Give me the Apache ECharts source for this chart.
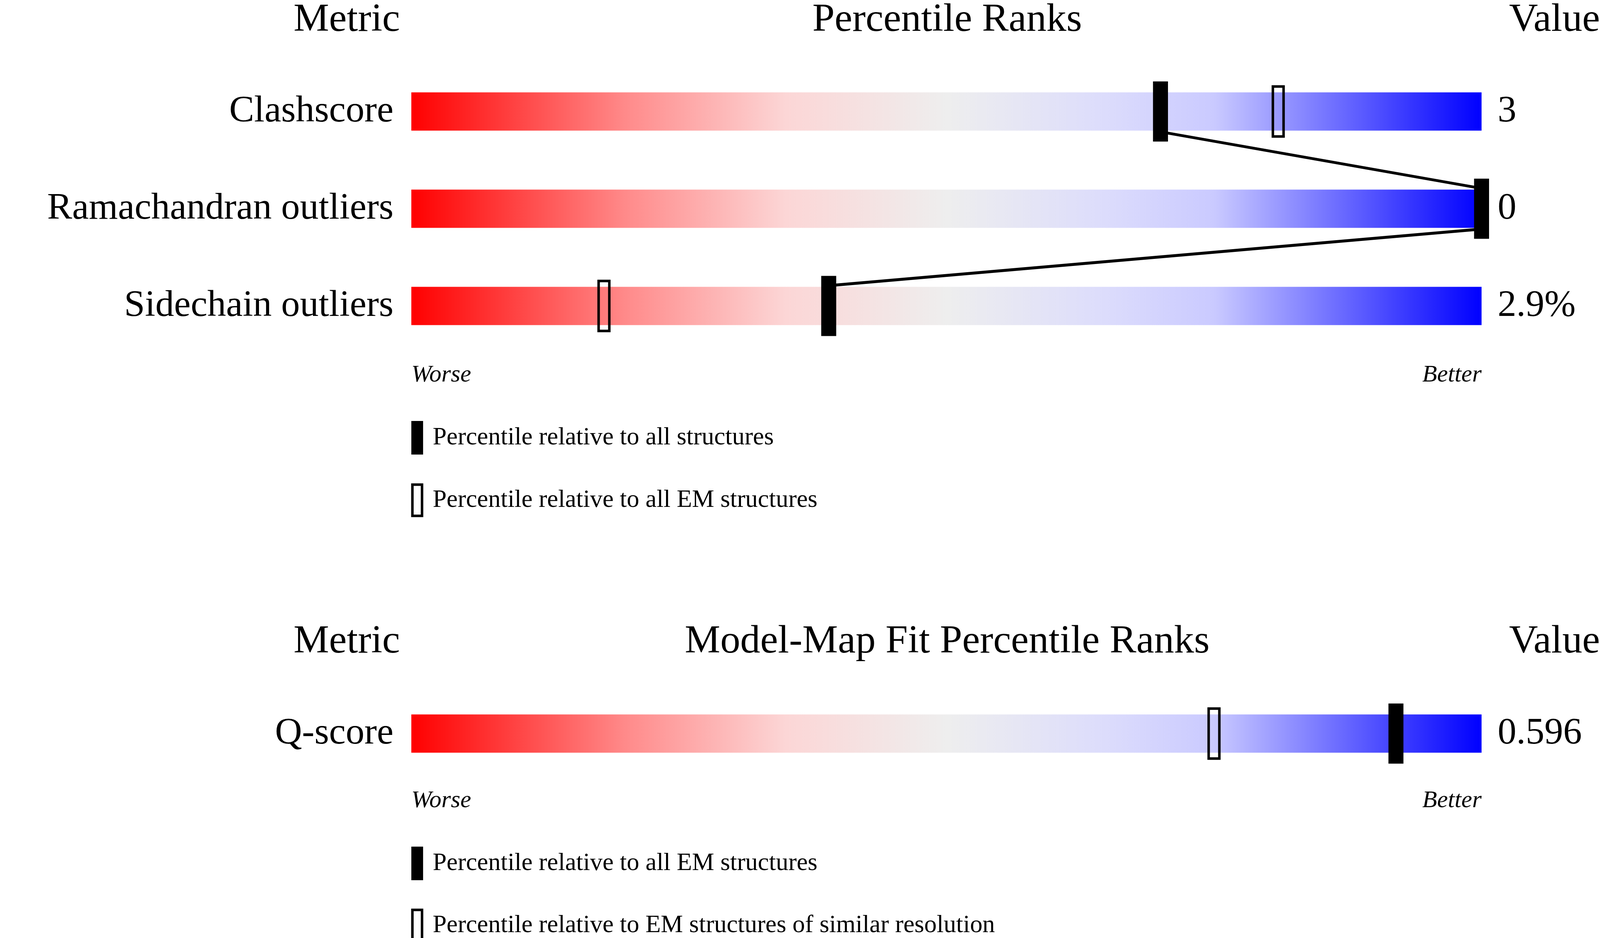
<!DOCTYPE html>
<html>
<head>
<meta charset="utf-8">
<script src="https://cdn.jsdelivr.net/npm/echarts@6/dist/echarts.min.js"></script>
<style>html,body{margin:0;padding:0;background:#fff;overflow:hidden}#chart{width:100vw;height:100vh}</style>
</head>
<body>
<div id="chart"></div>
<script>
// geometry percentile data
var metrics = ['Clashscore', 'Ramachandran outliers', 'Sidechain outliers'];
var values = ['3', '0', '2.9%'];
var pctAll = [70, 100, 39];
var pctEM = [81, 100, 18];
// model-map fit
var fitMetrics = ['Q-score'];
var fitValues = ['0.596'];
var fitPctAll = [92];
var fitPctRes = [75];

// layout is designed for 4485x2402, scaled to whatever the window really is
var el = document.getElementById('chart');
var sx = el.clientWidth / 4485, sy = el.clientHeight / 2402, sf = Math.min(sx, sy);
function X(v) { return v * sx; }
function Y(v) { return v * sy; }
function F(v) { return v * sf; }

var FONT = '"Liberation Serif", "DejaVu Serif", serif';
var gradient = new echarts.graphic.LinearGradient(0, 0, 1, 0, [
  { offset: 0, color: '#ff0000' },
  { offset: 0.2, color: '#ff8a8a' },
  { offset: 0.35, color: '#fcd6d6' },
  { offset: 0.5, color: '#eeeeee' },
  { offset: 0.65, color: '#dcdcfc' },
  { offset: 0.75, color: '#cacaff' },
  { offset: 1, color: '#0000ff' }
]);

function barSeries(grid, names, vals) {
  return {
    type: 'custom', xAxisIndex: grid, yAxisIndex: grid,
    data: names.map(function (n, i) { return [i]; }),
    renderItem: function (params, api) {
      var i = api.value(0);
      var a = api.coord([0, i]), b = api.coord([100, i]);
      return { type: 'group', children: [
        { type: 'rect', shape: { x: a[0], y: a[1] - Y(49), width: b[0] - a[0], height: Y(98) }, style: { fill: gradient } },
        { type: 'text', x: a[0] - X(50), y: a[1], style: { text: names[i], font: F(105) + 'px ' + FONT, fill: '#000', align: 'right', verticalAlign: 'middle' } },
        { type: 'text', x: b[0] + X(45), y: a[1], style: { text: vals[i], font: F(105) + 'px ' + FONT, fill: '#000', align: 'left', verticalAlign: 'middle' } }
      ] };
    }
  };
}

function lineSeries(grid, pcts) {
  return {
    type: 'custom', xAxisIndex: grid, yAxisIndex: grid,
    data: pcts.map(function (p, i) { return [p, i]; }),
    renderItem: function (params, api) {
      var i = api.value(1);
      if (i === 0) return null;
      var p0 = api.coord([pcts[i - 1], i - 1]), p1 = api.coord([pcts[i], i]);
      return { type: 'line', shape: { x1: p0[0], y1: p0[1] + Y(52), x2: p1[0], y2: p1[1] - Y(52) }, style: { stroke: '#000', lineWidth: F(8) } };
    }
  };
}

function markerSeries(grid, pcts, filled) {
  return {
    type: 'custom', xAxisIndex: grid, yAxisIndex: grid,
    data: pcts.map(function (p, i) { return [p, i]; }),
    renderItem: function (params, api) {
      var c = api.coord([api.value(0), api.value(1)]);
      if (filled) {
        return { type: 'rect', shape: { x: c[0] - X(21), y: c[1] - Y(77), width: X(42), height: Y(154) }, style: { fill: '#000' } };
      }
      return { type: 'rect', shape: { x: c[0] - X(15), y: c[1] - Y(64), width: X(30), height: Y(128) }, style: { fill: 'none', stroke: '#000', lineWidth: F(7) } };
    }
  };
}

function txt(x, y, s, size, align, italic) {
  return { type: 'text', x: X(x), y: Y(y), style: { text: s, font: (italic ? 'italic ' : '') + F(size) + 'px ' + FONT, fill: '#000', align: align, verticalAlign: 'middle' } };
}
function legend(y, s, filled) {
  return [
    filled ? { type: 'rect', shape: { x: X(1153), y: Y(y - 43), width: X(33), height: Y(86) }, style: { fill: '#000' } }
           : { type: 'rect', shape: { x: X(1156), y: Y(y - 40), width: X(27), height: Y(80) }, style: { fill: 'none', stroke: '#000', lineWidth: F(7) } },
    txt(1213, y, s, 70, 'left')
  ];
}

var chart = echarts.init(el);
chart.setOption({
  animation: false,
  grid: [
    { left: X(1153), width: X(3000), top: Y(161), height: Y(747) },
    { left: X(1153), width: X(3000), top: Y(1754), height: Y(249) }
  ],
  xAxis: [
    { gridIndex: 0, type: 'value', min: 0, max: 100, show: false },
    { gridIndex: 1, type: 'value', min: 0, max: 100, show: false }
  ],
  yAxis: [
    { gridIndex: 0, type: 'value', min: -0.5, max: 2.5, inverse: true, show: false },
    { gridIndex: 1, type: 'value', min: -0.5, max: 0.5, inverse: true, show: false }
  ],
  series: [
    barSeries(0, metrics, values),
    lineSeries(0, pctAll),
    markerSeries(0, pctEM, false),
    markerSeries(0, pctAll, true),
    barSeries(1, fitMetrics, fitValues),
    markerSeries(1, fitPctRes, false),
    markerSeries(1, fitPctAll, true)
  ],
  graphic: [].concat(
    [
      txt(972, 52, 'Metric', 112, 'center'),
      txt(2655, 52, 'Percentile Ranks', 112, 'center'),
      txt(4485, 52, 'Value', 112, 'right'),
      txt(1153, 961, 'Worse', 68, 'left', true),
      txt(4153, 961, 'Better', 68, 'right', true),
      txt(972, 1644, 'Metric', 112, 'center'),
      txt(2655, 1644, 'Model-Map Fit Percentile Ranks', 112, 'center'),
      txt(4485, 1644, 'Value', 112, 'right'),
      txt(1153, 2051, 'Worse', 68, 'left', true),
      txt(4153, 2051, 'Better', 68, 'right', true)
    ],
    legend(1121, 'Percentile relative to all structures', true),
    legend(1281, 'Percentile relative to all EM structures', false),
    legend(2211, 'Percentile relative to all EM structures', true),
    legend(2370, 'Percentile relative to EM structures of similar resolution', false)
  )
});
</script>
</body>
</html>
